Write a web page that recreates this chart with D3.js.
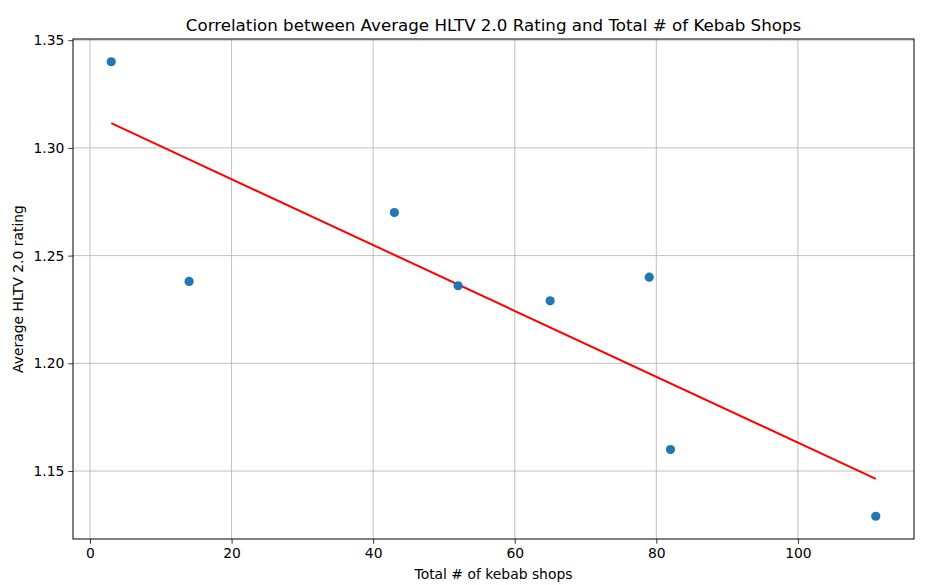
<!DOCTYPE html>
<html>
<head>
<meta charset="utf-8">
<script src="https://cdn.jsdelivr.net/npm/d3@7"></script>
<style>
  body { margin: 0; background: #fff; }
  svg { font-family: "DejaVu Sans", sans-serif; }
</style>
</head>
<body>
<svg width="928" height="585"></svg>
<script>
// data
const kebabShops = [3, 14, 43, 52, 65, 79, 82, 111]
const ratings = [1.340, 1.238, 1.270, 1.236, 1.229, 1.240, 1.160, 1.129]
const xTicks = [0, 20, 40, 60, 80, 100]
const yTicks = [1.15, 1.20, 1.25, 1.30, 1.35]

const svg = d3.select('svg')
const margin = { top: 39, right: 14, bottom: 46, left: 73 }
const width = 928 - margin.left - margin.right
const height = 585 - margin.top - margin.bottom

// matplotlib style 5% padding around the data
const pad = (lo, hi) => [lo - (hi - lo) * 0.05, hi + (hi - lo) * 0.05]

const x = d3.scaleLinear()
  .domain(pad(d3.min(kebabShops), d3.max(kebabShops)))
  .range([0, width])

const y = d3.scaleLinear()
  .domain(pad(d3.min(ratings), d3.max(ratings)))
  .range([height, 0])

const g = svg.append('g')
  .attr('transform', `translate(${margin.left},${margin.top})`)

// grid
g.append('g')
  .selectAll('line')
  .data(xTicks)
  .join('line')
  .attr('x1', d => x(d)).attr('x2', d => x(d))
  .attr('y1', 0).attr('y2', height)
  .attr('stroke', '#b0b0b0').attr('stroke-width', 0.8)

g.append('g')
  .selectAll('line')
  .data(yTicks)
  .join('line')
  .attr('x1', 0).attr('x2', width)
  .attr('y1', d => y(d)).attr('y2', d => y(d))
  .attr('stroke', '#b0b0b0').attr('stroke-width', 0.8)

// axes
const xAxis = d3.axisBottom(x)
  .tickValues(xTicks)
  .tickSize(4.7)
  .tickPadding(4)
  .tickFormat(d3.format('d'))

const yAxis = d3.axisLeft(y)
  .tickValues(yTicks)
  .tickSize(4.7)
  .tickPadding(4)
  .tickFormat(d3.format('.2f'))

g.append('g')
  .attr('transform', `translate(0,${height})`)
  .call(xAxis)
  .call(a => a.select('.domain').remove())
  .call(a => a.selectAll('text').attr('font-size', 13.9).attr('fill', '#000').attr('font-family', '"DejaVu Sans", sans-serif'))
  .call(a => a.selectAll('line').attr('stroke', '#000').attr('stroke-width', 0.8))

g.append('g')
  .call(yAxis)
  .call(a => a.select('.domain').remove())
  .call(a => a.selectAll('text').attr('font-size', 13.9).attr('fill', '#000').attr('font-family', '"DejaVu Sans", sans-serif'))
  .call(a => a.selectAll('line').attr('stroke', '#000').attr('stroke-width', 0.8))

// frame
g.append('rect')
  .attr('width', width).attr('height', height)
  .attr('fill', 'none').attr('stroke', '#000').attr('stroke-width', 1)

// linear fit
const xm = d3.mean(kebabShops)
const ym = d3.mean(ratings)
const sxy = d3.sum(kebabShops, (d, i) => (d - xm) * (ratings[i] - ym))
const sxx = d3.sum(kebabShops, d => (d - xm) * (d - xm))
const slope = sxy / sxx
const intercept = ym - slope * xm
const fitX = d3.extent(kebabShops)

g.append('path')
  .datum(fitX)
  .attr('d', d3.line().x(d => x(d)).y(d => y(slope * d + intercept)))
  .attr('fill', 'none')
  .attr('stroke', 'red')
  .attr('stroke-width', 2)

// points
g.append('g')
  .selectAll('circle')
  .data(kebabShops)
  .join('circle')
  .attr('cx', d => x(d))
  .attr('cy', (d, i) => y(ratings[i]))
  .attr('r', 4.6)
  .attr('fill', '#1f77b4')

// labels
svg.append('text')
  .attr('x', margin.left + width / 2)
  .attr('y', 31)
  .attr('text-anchor', 'middle')
  .attr('font-size', 16.7)
  .text('Correlation between Average HLTV 2.0 Rating and Total # of Kebab Shops')

svg.append('text')
  .attr('x', margin.left + width / 2)
  .attr('y', 579)
  .attr('text-anchor', 'middle')
  .attr('font-size', 13.9)
  .text('Total # of kebab shops')

svg.append('text')
  .attr('transform', `translate(23,${margin.top + height / 2}) rotate(-90)`)
  .attr('text-anchor', 'middle')
  .attr('font-size', 13.9)
  .text('Average HLTV 2.0 rating')
</script>
</body>
</html>
